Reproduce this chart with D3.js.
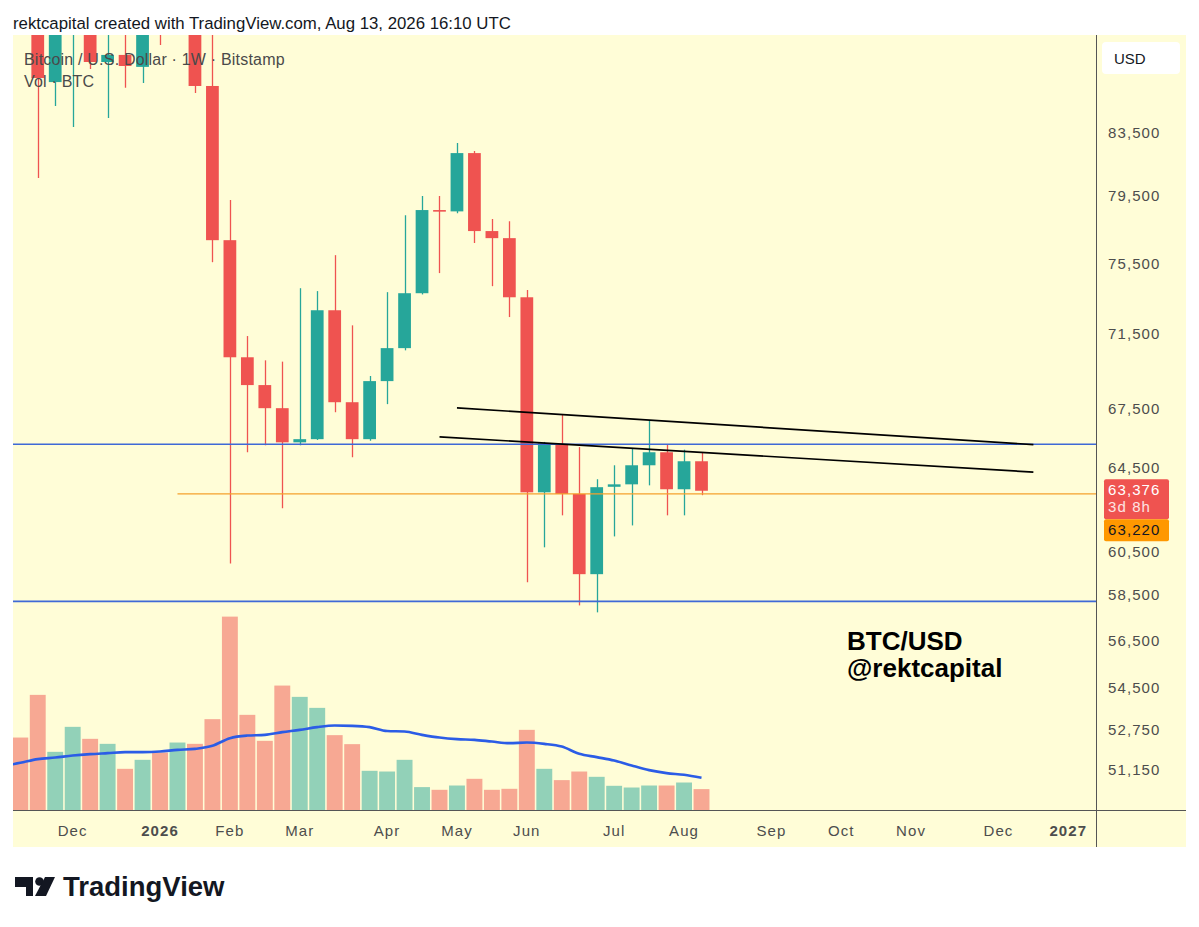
<!DOCTYPE html>
<html>
<head>
<meta charset="utf-8">
<script src="https://cdn.jsdelivr.net/npm/d3@7/dist/d3.min.js"></script>
<style>
  body { margin: 0; background: #fff; }
  svg { display: block; font-family: "Liberation Sans", Arial, sans-serif; }
</style>
</head>
<body>
<div id="chart"></div>
<script>
// weekly candles, Bitstamp BTC/USD (week start, Monday)
const weeks = [
  "2025-11-10", "2025-11-17", "2025-11-24", "2025-12-01", "2025-12-08", "2025-12-15", "2025-12-22", "2025-12-29",
  "2026-01-05", "2026-01-12", "2026-01-19", "2026-01-26", "2026-02-02", "2026-02-09", "2026-02-16", "2026-02-23",
  "2026-03-02", "2026-03-09", "2026-03-16", "2026-03-23", "2026-03-30", "2026-04-06", "2026-04-13", "2026-04-20",
  "2026-04-27", "2026-05-04", "2026-05-11", "2026-05-18", "2026-05-25", "2026-06-01", "2026-06-08", "2026-06-15",
  "2026-06-22", "2026-06-29", "2026-07-06", "2026-07-13", "2026-07-20", "2026-07-27", "2026-08-03", "2026-08-10"
];
const opens = [
  104700, 94200, 86770, 90400, 90650, 88120, 88600, 87790,
  91500, 90600, 95500, 86510, 76840, 70225, 68740, 67530,
  65780, 65940, 72810, 67840, 65940, 68950, 70720, 73770,
  78640, 78560, 82160, 77380, 76960, 73540, 63300, 65680,
  63220, 59440, 63570, 63690, 64630, 65280, 63450, 64830
];
const highs = [
  107000, 96000, 93100, 94100, 94600, 90400, 90500, 94800,
  94800, 97900, 96000, 90500, 79245, 71380, 70060, 69990,
  74055, 73890, 75960, 71970, 69220, 73830, 78330, 79490,
  79490, 82800, 82290, 78100, 77970, 73950, 65800, 67220,
  65540, 63940, 64630, 65480, 66910, 65680, 65410, 65280
];
const lows = [
  93000, 80600, 85190, 83820, 87650, 84400, 86400, 86710,
  89280, 90200, 86050, 75550, 59935, 65280, 65630, 62530,
  65630, 65900, 67320, 65030, 65860, 67740, 70600, 73700,
  74920, 78440, 76670, 74170, 72430, 59070, 60680, 62190,
  58030, 57720, 61190, 61710, 63640, 62190, 62190, 63160
];
const closes = [
  94200, 87040, 90400, 90650, 88120, 88600, 87850, 91500,
  90600, 95500, 86510, 76840, 70225, 68740, 67530, 65780,
  65940, 72810, 67840, 65940, 68950, 70720, 73770, 78640,
  78560, 82160, 77380, 76960, 73540, 63300, 65730, 63220,
  59440, 63550, 63690, 64630, 65280, 63450, 64830, 63376
];
const volume = [
  7300, 11570, 5870, 8370, 7170, 6670, 4170, 5070,
  5800, 6800, 6670, 9140, 19400, 9570, 6970, 12500,
  11370, 10270, 7540, 6640, 3970, 3900, 5070, 2340,
  2070, 2500, 3170, 2070, 2170, 8070, 4170, 3040,
  3900, 3370, 2470, 2300, 2500, 2500, 2800, 2140
];
// volume moving average, one extra week before the first candle
const volMaStart = "2025-11-03";
const volMa = [
  4450, 4770, 5140, 5300, 5500, 5640, 5740, 5840, 5840,
  5900, 6070, 6170, 6470, 7240, 7500, 7570, 7840,
  8070, 8340, 8500, 8470, 8340, 7950, 7900, 7570,
  7300, 7140, 7070, 6900, 6740, 6800, 6670, 6400,
  5670, 5340, 5000, 4500, 4040, 3740, 3570, 3270
];

const priceTicks = [83500, 79500, 75500, 71500, 67500, 64500, 60500, 58500, 56500, 54500, 52750, 51150];
const monthTicks = ["2025-12", "2026-01", "2026-02", "2026-03", "2026-04", "2026-05", "2026-06",
                    "2026-07", "2026-08", "2026-09", "2026-10", "2026-11", "2026-12", "2027-01"];
const monthLabels = ["Dec", "2026", "Feb", "Mar", "Apr", "May", "Jun", "Jul", "Aug", "Sep", "Oct", "Nov", "Dec", "2027"];

const blueLevels = [65680, 58210];
const orangeLevel = 63220;
const orangeFrom = "2026-01-12";
const trendStart = ["2026-05-04", "2026-04-27"];
const trendStartPrice = [67545, 66060];
const trendEnd = ["2026-12-21", "2026-12-21"];
const trendEndPrice = [65665, 64290];
const countdown = "3d 8h";

// ---------------------------------------------------------------------
const W = 1199, H = 927;
const plotLeft = 13, plotRight = 1096.5, plotTop = 35, plotBottom = 810.5;
const axisRight = 1186, paneBottom = 847;

const parseDay = d3.utcParse("%Y-%m-%d");
const parseMonth = d3.utcParse("%Y-%m");
const fmt = d3.format(",");

const upColor = "#26a69a", downColor = "#ef5350";
const axisText = "#4d4d4d";

const x = d3.scaleUtc()
  .domain([Date.UTC(2025, 10, 7, 2), Date.UTC(2027, 0, 15, 7)])
  .range([plotLeft, plotRight]);
const y = d3.scaleLog()
  .domain([49565, 89968])
  .range([plotBottom, plotTop]);
const yVol = d3.scaleLinear()
  .domain([0, d3.max(volume)])
  .range([plotBottom, plotBottom - (plotBottom - plotTop) * 0.25]);

const weekW = x(parseDay("2026-01-12")) - x(parseDay("2026-01-05"));
const bodyW = weekW * 0.73;
const volW = weekW * 0.91;

const candles = weeks.map((w, i) => ({
  t: parseDay(w), o: opens[i], h: highs[i], l: lows[i], c: closes[i], v: volume[i]
}));

const svg = d3.select("#chart").append("svg")
  .attr("width", W)
  .attr("height", H);

svg.append("rect").attr("width", W).attr("height", H).attr("fill", "#fff");

// header line
svg.append("text")
  .attr("x", 13).attr("y", 29)
  .attr("font-size", 16.8)
  .attr("fill", "#131722")
  .text("rektcapital created with TradingView.com, Aug 13, 2026 16:10 UTC");

// chart pane background
svg.append("rect")
  .attr("x", plotLeft).attr("y", plotTop)
  .attr("width", axisRight - plotLeft).attr("height", paneBottom - plotTop)
  .attr("fill", "#fffdd7");

svg.append("clipPath").attr("id", "plot")
  .append("rect")
  .attr("x", plotLeft).attr("y", plotTop)
  .attr("width", plotRight - plotLeft).attr("height", plotBottom - plotTop);

const plot = svg.append("g").attr("clip-path", "url(#plot)");

// volume bars
plot.append("g").selectAll("rect")
  .data(candles)
  .join("rect")
  .attr("x", d => x(d.t) - volW / 2)
  .attr("y", d => yVol(d.v))
  .attr("width", volW)
  .attr("height", d => plotBottom - yVol(d.v))
  .attr("fill", d => d.c >= d.o ? upColor : downColor)
  .attr("fill-opacity", 0.5);

// volume MA
const maDates = [parseDay(volMaStart), ...candles.map(d => d.t)];
plot.append("path")
  .datum(volMa)
  .attr("fill", "none")
  .attr("stroke", "#2b5ce6")
  .attr("stroke-width", 2.6)
  .attr("d", d3.line()
    .x((d, i) => x(maDates[i]))
    .y(d => yVol(d))
    .curve(d3.curveMonotoneX));

// candles
const cg = plot.append("g").selectAll("g")
  .data(candles)
  .join("g");

cg.append("line")
  .attr("x1", d => Math.round(x(d.t)) + 0.5)
  .attr("x2", d => Math.round(x(d.t)) + 0.5)
  .attr("y1", d => y(d.h))
  .attr("y2", d => y(d.l))
  .attr("stroke", d => d.c >= d.o ? upColor : downColor)
  .attr("stroke-width", 1.3);

cg.append("rect")
  .attr("x", d => x(d.t) - bodyW / 2)
  .attr("y", d => y(Math.max(d.o, d.c)))
  .attr("width", bodyW)
  .attr("height", d => Math.max(1.6, Math.abs(y(d.o) - y(d.c))))
  .attr("fill", d => d.c >= d.o ? upColor : downColor);

// horizontal levels
plot.append("g").selectAll("line")
  .data(blueLevels)
  .join("line")
  .attr("x1", plotLeft).attr("x2", plotRight)
  .attr("y1", d => y(d)).attr("y2", d => y(d))
  .attr("stroke", "#3f69d6")
  .attr("stroke-width", 1.6);

plot.append("line")
  .attr("x1", x(parseDay(orangeFrom))).attr("x2", plotRight)
  .attr("y1", y(orangeLevel)).attr("y2", y(orangeLevel))
  .attr("stroke", "#f5a02c")
  .attr("stroke-width", 1.2);

// trend lines
plot.append("g").selectAll("line")
  .data(trendStart)
  .join("line")
  .attr("x1", d => x(parseDay(d)))
  .attr("y1", (d, i) => y(trendStartPrice[i]))
  .attr("x2", (d, i) => x(parseDay(trendEnd[i])))
  .attr("y2", (d, i) => y(trendEndPrice[i]))
  .attr("stroke", "#000")
  .attr("stroke-width", 1.7);

// legend
const legend = svg.append("g")
  .attr("font-size", 16)
  .attr("letter-spacing", 0.2)
  .attr("fill", "#4a4a4a");
legend.append("text").attr("x", 24).attr("y", 65).text("Bitcoin / U.S. Dollar · 1W · Bitstamp");
legend.append("text").attr("x", 24).attr("y", 87).text("Vol · BTC");

// watermark
const wm = svg.append("g").attr("font-weight", 700).attr("font-size", 26).attr("fill", "#000");
wm.append("text").attr("x", 847).attr("y", 650).text("BTC/USD");
wm.append("text").attr("x", 847).attr("y", 677).text("@rektcapital");

// axes lines
svg.append("line")
  .attr("x1", plotLeft).attr("x2", axisRight)
  .attr("y1", plotBottom).attr("y2", plotBottom)
  .attr("stroke", "#555").attr("stroke-width", 1);
svg.append("line")
  .attr("x1", plotRight).attr("x2", plotRight)
  .attr("y1", plotTop).attr("y2", paneBottom)
  .attr("stroke", "#555").attr("stroke-width", 1);

// price scale labels
svg.append("g").selectAll("text")
  .data(priceTicks)
  .join("text")
  .attr("x", 1108)
  .attr("y", d => y(d) + 5.5)
  .attr("font-size", 15)
  .attr("letter-spacing", 1.1)
  .attr("fill", axisText)
  .text(d => fmt(d));

// time labels at first weekly bar of each month
svg.append("g").selectAll("text")
  .data(monthTicks)
  .join("text")
  .attr("x", d => x(d3.utcMonday.ceil(parseMonth(d))))
  .attr("y", 835.5)
  .attr("text-anchor", "middle")
  .attr("font-size", 15)
  .attr("letter-spacing", 1.1)
  .attr("font-weight", (d, i) => /^\d{4}$/.test(monthLabels[i]) ? 700 : 400)
  .attr("fill", axisText)
  .text((d, i) => monthLabels[i]);

// USD badge
svg.append("rect")
  .attr("x", 1102).attr("y", 42)
  .attr("width", 78).attr("height", 32)
  .attr("rx", 4)
  .attr("fill", "#fff");
svg.append("text")
  .attr("x", 1114).attr("y", 64)
  .attr("font-size", 15)
  .attr("fill", "#131722")
  .text("USD");

// last price + level badges
const last = candles[candles.length - 1];
const ly = y(last.c);
svg.append("rect")
  .attr("x", 1104).attr("y", ly - 11.5)
  .attr("width", 65).attr("height", 40)
  .attr("rx", 2)
  .attr("fill", downColor);
svg.append("rect")
  .attr("x", 1104).attr("y", ly + 28.5)
  .attr("width", 65).attr("height", 22)
  .attr("rx", 2)
  .attr("fill", "#ff9800");

const badgeText = svg.append("g").attr("font-size", 15).attr("letter-spacing", 1.1);
badgeText.append("text")
  .attr("x", 1108).attr("y", ly + 4)
  .attr("fill", "#fff")
  .text(fmt(last.c));
badgeText.append("text")
  .attr("x", 1108).attr("y", ly + 21.5)
  .attr("fill", "#fde3e3")
  .text(countdown);
badgeText.append("text")
  .attr("x", 1108).attr("y", ly + 44.5)
  .attr("fill", "#131722")
  .text(fmt(orangeLevel));

// TradingView logo
const logo = svg.append("g").attr("fill", "#131722");
logo.append("path").attr("d", "M15,877 H33 V896 H26 V887 H15 Z");
logo.append("circle").attr("cx", 39.5).attr("cy", 881.5).attr("r", 4.3);
logo.append("path").attr("d", "M45,877 H55 L46,896 H35 Z");
svg.append("text")
  .attr("x", 63).attr("y", 896)
  .attr("font-size", 27.5).attr("font-weight", 700)
  .attr("fill", "#131722")
  .text("TradingView");
</script>
</body>
</html>
